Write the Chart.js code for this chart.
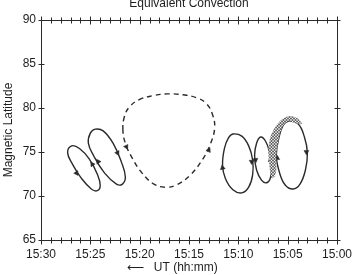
<!DOCTYPE html>
<html><head><meta charset="utf-8">
<script src="https://cdn.jsdelivr.net/npm/chart.js@4"></script>
<style>html,body{margin:0;padding:0;background:#fff}</style>
</head><body>
<canvas id="c" width="359" height="275"></canvas>
<script>
// x values: minutes after 15:00 UT (axis runs backwards, 15:30 -> 15:00)
const xTickMinutes = [30, 25, 20, 15, 10, 5, 0];
const xTickLabels = ['15:30', '15:25', '15:20', '15:15', '15:10', '15:05', '15:00'];
const yTicks = [65, 70, 75, 80, 85, 90];

// convection loops
const loop1Min = [26.9, 26.1, 25.1, 24.3, 24.0, 24.3, 24.9, 25.9, 26.8, 27.3];
const loop1Lat = [75.7, 75.4, 74.2, 72.5, 71.2, 70.6, 70.8, 72.0, 73.6, 74.9];

const loop2Min = [24.5, 23.7, 22.7, 21.85, 21.45, 21.75, 22.35, 23.55, 24.65, 25.2, 25.0];
const loop2Lat = [77.6, 77.4, 76.0, 73.85, 72.15, 71.35, 71.35, 72.6, 74.55, 76.0, 77.15];

const loop3Min = [21.7, 21.55, 21.05, 20.05, 18.65, 17.2, 15.6, 14.2, 13.2, 12.6, 12.4, 12.8, 13.6, 14.9, 16.3, 17.4, 18.55, 19.75, 20.75, 21.45];
const loop3Lat = [77.5, 79.0, 80.1, 80.95, 81.4, 81.6, 81.5, 81.15, 80.45, 79.2, 77.75, 76.0, 74.2, 72.35, 71.25, 71.0, 71.35, 72.6, 74.3, 76.0];

const loop4Min = [10.55, 9.65, 8.95, 8.55, 8.55, 8.95, 9.65, 10.55, 11.3, 11.6, 11.4, 11.0];
const loop4Lat = [77.05, 76.8, 75.7, 74.1, 72.4, 71.0, 70.35, 70.7, 71.95, 73.5, 75.45, 76.6];

const loop5Min = [7.75, 7.25, 6.85, 6.65, 6.75, 7.15, 7.65, 8.15, 8.35, 8.15];
const loop5Lat = [76.7, 76.25, 75.0, 73.4, 72.05, 71.5, 71.8, 72.95, 74.65, 76.0];

const loop6Min = [4.95, 3.95, 3.3, 3.0, 3.2, 3.75, 4.45, 5.25, 5.85, 6.15, 5.85, 5.45];
const loop6Lat = [78.5, 78.2, 76.7, 74.9, 72.95, 71.35, 70.8, 71.25, 72.75, 74.65, 76.8, 78.05];

// stippled band round the rightmost loop
const stippleMin = [6.65, 6.85, 6.95, 6.75, 6.25, 5.55, 4.75, 4.05, 3.55, 3.95, 4.95, 5.45, 5.85, 6.15, 6.15, 6.35];
const stippleLat = [72.05, 73.5, 75.25, 76.7, 77.85, 78.75, 79.1, 78.85, 78.2, 78.2, 78.5, 78.05, 76.8, 74.65, 72.95, 72.15];

// direction arrows on the loops
const arrowMin = [26.4, 24.8, 24.2, 22.25, 21.35, 13.0, 11.6, 8.65, 8.25, 6.75, 6.05, 3.1];
const arrowLat = [72.6, 73.6, 73.9, 74.9, 75.6, 75.2, 73.2, 73.9, 74.1, 74.1, 74.3, 75.0];
const arrowDir = [146, 326, 327, 155, 155, 27, 348, 180, 172, 352, 0, 180];

const FONT = 'Arial, "Liberation Sans", Helvetica, sans-serif';
const TEXT = '#1e1e1e';
const LINE = '#2a2a2a';

function pts(xs, ys) { return xs.map((v, i) => ({x: v, y: ys[i]})); }

function stipplePattern() {
  const c = document.createElement('canvas');
  c.width = 3; c.height = 3;
  const g = c.getContext('2d');
  g.fillStyle = '#fff'; g.fillRect(0, 0, 3, 3);
  g.strokeStyle = '#333'; g.lineWidth = 0.9;
  g.beginPath(); g.arc(1.5, 1.5, 1.05, 0, Math.PI * 2); g.stroke();
  return g.createPattern(c, 'repeat');
}

function loopDs(xs, ys, dashed) {
  return {
    data: pts(xs, ys), isLoop: true, borderColor: LINE, borderWidth: 1.4,
    borderDash: dashed ? [5, 4] : [], pointRadius: 0, tension: 0.42, fill: false
  };
}

const closeLoops = {
  id: 'closeLoops',
  afterDatasetsUpdate(chart) {
    chart.data.datasets.forEach((ds, i) => {
      if (!ds.isLoop) return;
      const line = chart.getDatasetMeta(i).dataset;
      if (!line) return;
      line._loop = true; line._fullLoop = true;
      line._pointsUpdated = false;
      delete line._segments; delete line._path;
    });
  }
};

const frame = {
  id: 'frame',
  afterDatasetsDraw(chart) {
    const {ctx, chartArea: a, scales: {x, y}} = chart;
    ctx.save();
    ctx.strokeStyle = LINE; ctx.lineWidth = 1;
    const L = Math.round(a.left) + 0.5, R = Math.round(a.right) + 0.5;
    const T = Math.round(a.top) + 0.5, B = Math.round(a.bottom) + 0.5;
    ctx.strokeRect(L, T, R - L, B - T);
    ctx.beginPath();
    for (let m = 0; m <= 30; m++) {
      const px = Math.round(x.getPixelForValue(m)) + 0.5;
      const h = m % 5 === 0 ? 4 : 3;
      ctx.moveTo(px, T - h); ctx.lineTo(px, T + h);
      ctx.moveTo(px, B - h); ctx.lineTo(px, B + h);
    }
    for (const v of yTicks) {
      const py = Math.round(y.getPixelForValue(v)) + 0.5;
      ctx.moveTo(L - 3, py); ctx.lineTo(L + 3, py);
      ctx.moveTo(R - 3, py); ctx.lineTo(R + 3, py);
    }
    ctx.stroke();
    ctx.restore();
  }
};

new Chart(document.getElementById('c'), {
  type: 'line',
  data: {
    datasets: [
      { data: pts(stippleMin, stippleLat), isLoop: true, borderWidth: 0, borderColor: 'rgba(0,0,0,0)',
        backgroundColor: stipplePattern(), fill: 'shape', pointRadius: 0, tension: 0.3 },
      loopDs(loop1Min, loop1Lat, false),
      loopDs(loop2Min, loop2Lat, false),
      loopDs(loop3Min, loop3Lat, true),
      loopDs(loop4Min, loop4Lat, false),
      loopDs(loop5Min, loop5Lat, false),
      loopDs(loop6Min, loop6Lat, false),
      { data: pts(arrowMin, arrowLat), showLine: false, pointStyle: 'triangle', pointRadius: 2.8,
        pointRotation: arrowDir, pointBackgroundColor: LINE, pointBorderColor: LINE, pointBorderWidth: 0.5 }
    ]
  },
  options: {
    responsive: false, animation: false, devicePixelRatio: 1,
    layout: {padding: 0},
    plugins: {
      legend: {display: false}, tooltip: {enabled: false},
      title: {display: true, text: 'Equivalent Convection', fullSize: false, color: TEXT,
        font: {size: 12, weight: 'normal', family: FONT, lineHeight: 1.2},
        padding: {top: -3.2, bottom: 8.8}}
    },
    scales: {
      x: {
        type: 'linear', min: 0, max: 30, reverse: true,
        afterFit(s) { s.height = 35; },
        grid: {display: false, drawTicks: false}, border: {display: false},
        ticks: {stepSize: 5, autoSkip: false, maxRotation: 0, padding: 7, color: TEXT,
          font: {size: 12, family: FONT},
          callback: v => { const k = xTickMinutes.indexOf(v); return k < 0 ? '' : xTickLabels[k]; }},
        title: {display: true, text: '\u27F5   UT (hh:mm)          ', color: TEXT,
          font: {size: 12, family: FONT}, padding: {top: 0, bottom: 0}}
      },
      y: {
        type: 'linear', min: 65, max: 90,
        afterFit(s) { s.width = 41; },
        grid: {display: false, drawTicks: false}, border: {display: false},
        ticks: {stepSize: 5, padding: 5, color: TEXT, font: {size: 12, family: FONT}},
        title: {display: true, text: 'Magnetic Latitude', color: TEXT,
          font: {size: 12, family: FONT}, padding: {top: 1, bottom: 0}}
      }
    }
  },
  plugins: [closeLoops, frame]
});
</script>
</body></html>
